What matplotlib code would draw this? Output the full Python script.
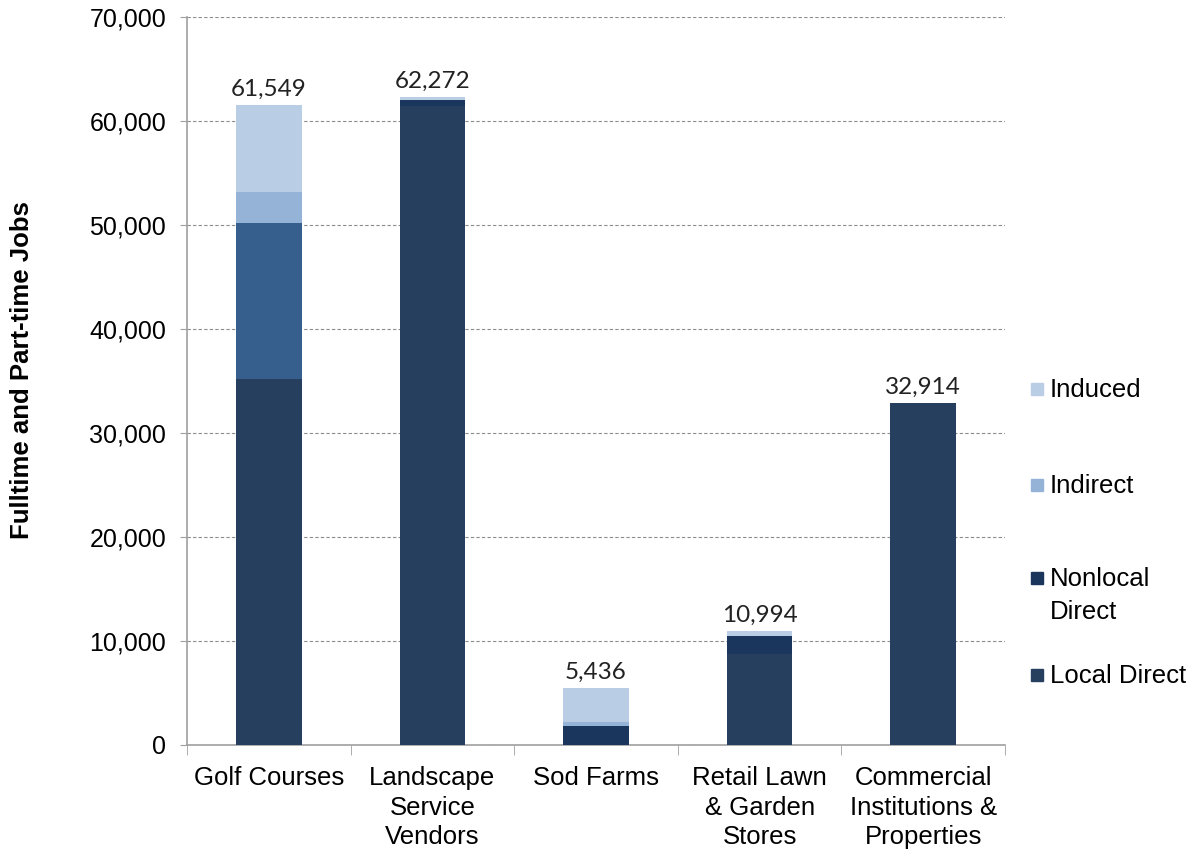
import matplotlib
matplotlib.use("Agg")
import matplotlib.pyplot as plt
from matplotlib.patches import Rectangle
from matplotlib.ticker import FuncFormatter, FixedLocator
import numpy as np

categories = ["Golf Courses", "Landscape\nService\nVendors", "Sod Farms",
              "Retail Lawn\n& Garden\nStores", "Commercial\nInstitutions &\nProperties"]
local_direct = [35200, 61450, 0, 8720, 32914]
nonlocal_direct = [15000, 600, 1800, 1760, 0]
indirect = [3000, 0, 400, 0, 0]
induced = [8349, 222, 3236, 514, 0]
totals = [61549, 62272, 5436, 10994, 32914]

series_labels = ["Induced", "Indirect", "Nonlocal\nDirect", "Local Direct"]

c_local = "#263F5F"
c_nonlocal = "#1B365D"
c_nonlocal_golf = "#365F8E"
c_indirect = "#95B3D7"
c_induced = "#B9CDE5"

plt.rcParams["font.family"] = ["Liberation Sans", "DejaVu Sans"]

W, H = 1196, 851
fig = plt.figure(figsize=(W / 100, H / 100), dpi=100)
ax = fig.add_axes([187 / W, 1 - 745 / H, (1005 - 187) / W, (745 - 17) / H])

x = np.arange(len(categories))
w = 0.40
local = np.array(local_direct, dtype=float)
nonloc = np.array(nonlocal_direct, dtype=float)
indir = np.array(indirect, dtype=float)
induc = np.array(induced, dtype=float)

nonlocal_colors = [c_nonlocal_golf] + [c_nonlocal] * (len(categories) - 1)
ax.bar(x, local, w, color=c_local, zorder=3)
ax.bar(x, nonloc, w, bottom=local, color=nonlocal_colors, zorder=3)
ax.bar(x, indir, w, bottom=local + nonloc, color=c_indirect, zorder=3)
ax.bar(x, induc, w, bottom=local + nonloc + indir, color=c_induced, zorder=3)

for xi, t in zip(x, totals):
    ax.text(xi, t + 500, f"{t:,}", ha="center", va="bottom",
            fontsize=17.5, family=["Lato", "DejaVu Sans"], color="#222222")

ax.set_xlim(-0.5, len(categories) - 0.5)
ax.set_ylim(0, 70000)
ax.set_yticks(np.arange(0, 70001, 10000))
ax.yaxis.set_major_formatter(FuncFormatter(lambda v, p: f"{int(v):,}"))
ax.tick_params(axis="y", labelsize=18, length=5, color="#A0A0A0", pad=10)

ax.set_xticks(x)
ax.set_xticklabels(categories, fontsize=18.5, linespacing=1.3)
ax.tick_params(axis="x", length=0, pad=15)
ax.xaxis.set_minor_locator(FixedLocator(np.arange(-0.5, len(categories), 1.0)))
ax.tick_params(axis="x", which="minor", length=7, color="#A0A0A0")

ax.grid(axis="y", linestyle=(0, (3, 2)), color="#8C8C8C", linewidth=0.8, zorder=0)
for s in ["top", "right"]:
    ax.spines[s].set_visible(False)
for s in ["left", "bottom"]:
    ax.spines[s].set_color("#A0A0A0")
    ax.spines[s].set_linewidth(1.2)

ax.set_ylabel("Fulltime and Part-time Jobs", fontsize=18.5, fontweight="bold")
ax.yaxis.set_label_coords((34 - 187) / 818, (745 - 370) / 728)

# Legend drawn as squares and text in figure pixels
legend_colors = [c_induced, c_indirect, c_nonlocal, c_local]
legend_rows = [389, 485, 578, 675]
for col, lab, yc in zip(legend_colors, series_labels, legend_rows):
    fig.patches.append(Rectangle((1031 / W, 1 - (yc + 6) / H), 12 / W, 12 / H,
                                 transform=fig.transFigure, color=col))
    fig.text(1050 / W, 1 - (yc - 11) / H, lab, fontsize=18.5, ha="left", va="top",
             linespacing=1.45)

fig.savefig("out.png", dpi=100)
